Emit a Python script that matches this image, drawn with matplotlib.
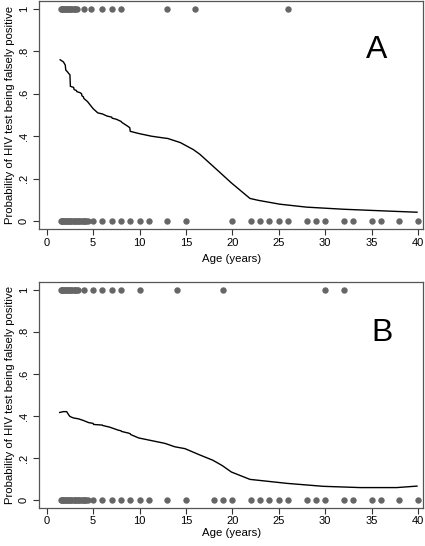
import matplotlib
matplotlib.use("Agg")
import matplotlib.pyplot as plt
from matplotlib import font_manager as fm

# pick a regular-width Arial-metric font
_cands = [f for f in fm.fontManager.ttflist
          if f.name.startswith('Liberation Sans') and 'Narrow' not in f.fname
          and 'Narrow' not in f.name and f.weight in (400, 'normal')
          and f.style == 'normal']
if _cands:
    fm.fontManager.addfont(_cands[0].fname)
    FAMILY = _cands[0].name
else:
    FAMILY = 'DejaVu Sans'
plt.rcParams['font.family'] = [FAMILY, 'DejaVu Sans']
plt.rcParams['font.stretch'] = 'normal'

# ---- Data ----
# Panel A: observed outcomes (age in years)
a_pos_ages = [1.5, 1.6, 1.7, 1.8, 1.9, 2.0, 2.1, 2.2, 2.3, 2.4, 2.5, 2.6, 2.75,
              2.9, 3.0, 3.1, 3.25, 4, 4.8, 6, 7, 8, 13, 16, 26]
a_neg_ages = [1.5, 1.6, 1.7, 1.8, 1.9, 2.0, 2.1, 2.2, 2.3, 2.4, 2.5, 2.6, 2.75,
              2.9, 3.0, 3.1, 3.25, 3.4, 3.5, 3.6, 3.75, 3.9, 4.0, 4.1, 4.25, 4.4,
              5, 6, 7, 8, 9, 10, 11, 13, 15, 20, 22, 23, 24, 25, 26, 28, 29, 30,
              32, 33, 35, 36, 38, 40]
# Panel A: smoothed probability curve
a_curve_age = [1.45, 1.8, 2.0, 2.05, 2.3, 2.35, 2.5, 2.55, 2.9, 2.95, 3.2, 3.25,
               3.6, 3.75, 3.8, 3.95, 4.0, 4.4, 4.85, 5.0, 5.5, 6.0, 6.5, 7.0,
               7.05, 7.5, 8.0, 8.1, 8.8, 8.95, 9.0, 10.0, 11.3, 12.9, 13.0,
               14.4, 15.8, 16.5, 18.7, 19.9, 21.9, 22.8, 25.1, 28.0, 32.0, 35.9,
               39.9]
a_curve_p = [0.76, 0.75, 0.735, 0.712, 0.70, 0.696, 0.69, 0.635, 0.63, 0.62,
             0.615, 0.61, 0.605, 0.60, 0.59, 0.586, 0.578, 0.563, 0.538, 0.53,
             0.51, 0.505, 0.495, 0.49, 0.485, 0.48, 0.47, 0.465, 0.445, 0.44,
             0.423, 0.412, 0.40, 0.39, 0.39, 0.37, 0.337, 0.315, 0.228, 0.180,
             0.107, 0.098, 0.08, 0.066, 0.056, 0.049, 0.042]

# Panel B: observed outcomes
b_pos_ages = [1.5, 1.6, 1.7, 1.8, 1.9, 2.0, 2.1, 2.2, 2.3, 2.4, 2.5, 2.6, 2.75,
              2.9, 3.0, 3.1, 3.25, 3.4, 4, 5, 6, 7, 8, 10, 14, 19, 30, 32]
b_neg_ages = [1.5, 1.6, 1.7, 1.8, 1.9, 2.0, 2.1, 2.2, 2.3, 2.4, 2.5, 2.6, 2.75,
              2.9, 3.0, 3.1, 3.25, 3.4, 3.5, 3.6, 3.75, 3.9, 4.0, 4.1, 4.25, 4.4,
              5, 6, 7, 8, 9, 10, 11, 13, 15, 18, 19, 20, 22, 23, 24, 25, 26, 28,
              29, 30, 32, 33, 35, 36, 38, 40]
# Panel B: smoothed probability curve
b_curve_age = [1.4, 1.8, 2.15, 2.33, 2.5, 2.87, 3.4, 3.95, 4.5, 5.0, 5.05, 5.7,
               6.0, 6.05, 6.8, 7.7, 8.0, 8.05, 8.8, 9.0, 9.05, 9.9, 11.1,
               12.75, 13.8, 14.9, 16.5, 17.9, 18.9, 19.9, 21.9, 25.9, 29.8,
               33.8, 37.7, 39.9]
b_curve_p = [0.417, 0.421, 0.421, 0.408, 0.398, 0.391, 0.387, 0.379, 0.369,
             0.365, 0.36, 0.358, 0.357, 0.355, 0.347, 0.333, 0.33, 0.327, 0.319,
             0.316, 0.312, 0.296, 0.285, 0.270, 0.254, 0.245, 0.215, 0.19,
             0.165, 0.134, 0.099, 0.080, 0.066, 0.060, 0.060, 0.067]

panel_labels = ["A", "B"]
y_ticks = [0, 0.2, 0.4, 0.6, 0.8, 1]
y_ticklabels = ["0", ".2", ".4", ".6", ".8", "1"]
x_ticks = [0, 5, 10, 15, 20, 25, 30, 35, 40]
x_label = "Age (years)"
y_label = "Probability of HIV test being falsely positive"

W, H = 425, 546
fig = plt.figure(figsize=(W / 100, H / 100), dpi=100)

def px_axes(left, top, right, bottom):
    return fig.add_axes([left / W, 1 - bottom / H, (right - left) / W, (bottom - top) / H])

axA = px_axes(39.3, 1, 423.3, 229)
axB = px_axes(39.3, 282, 423.3, 508)

panels = [
    (axA, a_pos_ages, a_neg_ages, a_curve_age, a_curve_p, panel_labels[0], (377, 50), 2.5, 4.0),
    (axB, b_pos_ages, b_neg_ages, b_curve_age, b_curve_p, panel_labels[1], (382, 333), 1.5, 1.5),
]

dot_color = "#666666"
for ax, pos, neg, cx, cy, lab, (lx, ly), xpad, xlpad in panels:
    ax.plot(pos, [1] * len(pos), 'o', color=dot_color, markersize=4.6,
            markeredgewidth=0, clip_on=False)
    ax.plot(neg, [0] * len(neg), 'o', color=dot_color, markersize=4.6,
            markeredgewidth=0, clip_on=False)
    ax.plot(cx, cy, color='black', linewidth=1.0)
    ax.set_xlim(-0.8, 40.58)
    ax.set_ylim(-0.037, 1.037)
    ax.set_xticks(x_ticks)
    ax.set_yticks(y_ticks)
    ax.set_yticklabels(y_ticklabels, rotation=90, va='center')
    ax.tick_params(axis='both', labelsize=8, length=4, width=0.8,
                   color='#333333')
    ax.tick_params(axis='x', pad=xpad)
    ax.tick_params(axis='y', pad=3.5)
    for s in ax.spines.values():
        s.set_color('#555555')
        s.set_linewidth(0.9)
    ax.set_xlabel(x_label, fontsize=8.2, labelpad=xlpad)
    ax.set_ylabel(y_label, fontsize=8.2, labelpad=3)
    ax.text(lx / W, 1 - ly / H, lab, transform=fig.transFigure, fontsize=23,
            ha='center', va='center')

fig.savefig("out.png", dpi=100, facecolor='white')
